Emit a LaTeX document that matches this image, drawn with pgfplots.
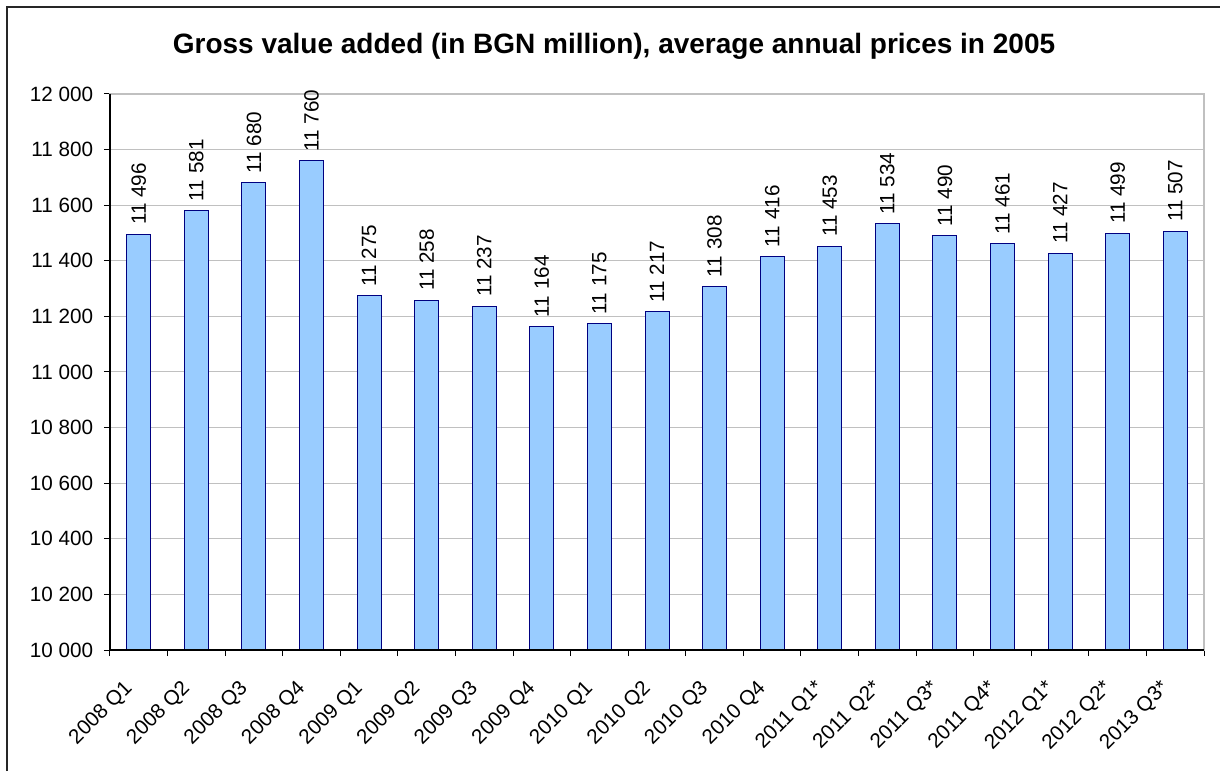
\documentclass[border=0pt]{standalone}
\usepackage{pgfplots}
\pgfplotsset{compat=1.18}
\usepackage{fontspec}
\setmainfont{Liberation Sans}
\definecolor{barfill}{HTML}{99CCFF}
\definecolor{baredge}{HTML}{000080}
\definecolor{gridc}{HTML}{C0C0C0}
\begin{document}
\begin{tikzpicture}
\useasboundingbox (-82.5pt,-90.75pt) rectangle (832.5pt,487.5pt);
\draw[line width=1.5pt, black!85] (-77.25pt,-90.75pt) -- (-77.25pt,482.25pt) -- (832.5pt,482.25pt);
\node[font=\bfseries\fontsize{21}{24}\selectfont] at (378pt,453pt) {Gross value added (in BGN million), average annual prices in 2005};
\begin{axis}[
  at={(0,0)}, anchor=south west,
  scale only axis, width=820.5pt, height=417pt,
  xmin=-0.5, xmax=18.5, ymin=10000, ymax=12000,
  ytick={10000,10200,...,12000},
  scaled y ticks=false,
  xtick={0,...,18},
  xticklabels={2008 Q1,2008 Q2,2008 Q3,2008 Q4,2009 Q1,2009 Q2,2009 Q3,2009 Q4,2010 Q1,2010 Q2,2010 Q3,2010 Q4,2011 Q1*,2011 Q2*,2011 Q3*,2011 Q4*,2012 Q1*,2012 Q2*,2013 Q3*},
  minor xtick={-0.5,0.5,...,18.5},
  x tick style={draw=none},
  minor x tick style={draw=black, line width=0.75pt},
  minor tick length=4.5pt,
  major tick length=4.5pt,
  y tick style={draw=black, line width=0.75pt},
  tick pos=left, tick align=outside,
  ymajorgrids, grid style={gridc, line width=0.75pt},
  axis line style={gridc, line width=1pt},
  /pgf/number format/assume math mode=true,
  /pgf/number format/1000 sep={\ },
  /pgf/number format/fixed,
  /pgf/number format/precision=0,
  yticklabel style={font=\fontsize{15.5}{17}\selectfont, inner sep=2pt, xshift=-6pt},
  xticklabel style={font=\fontsize{15.5}{17}\selectfont, xshift=-12pt, yshift=-14pt, rotate=45, anchor=north east, inner sep=2pt},
  clip=false,
  nodes near coords={\pgfmathprintnumber[fixed,precision=0,1000 sep={\ },assume math mode=true]{\pgfplotspointmeta}},
  every node near coord/.append style={font=\fontsize{15.5}{17}\selectfont, rotate=90, anchor=west, inner sep=0pt, outer sep=7pt, black},
]
\addplot[ybar, bar width=18pt, fill=barfill, draw=baredge, line width=0.75pt] coordinates {
(0,11496) (1,11581) (2,11680) (3,11760) (4,11275) (5,11258) (6,11237) (7,11164) (8,11175) (9,11217)
(10,11308) (11,11416) (12,11453) (13,11534) (14,11490) (15,11461) (16,11427) (17,11499) (18,11507)
};
\draw[black, line width=1pt] (rel axis cs:0,1) -- (rel axis cs:0,0) -- (rel axis cs:1,0);
\end{axis}
\end{tikzpicture}
\end{document}
